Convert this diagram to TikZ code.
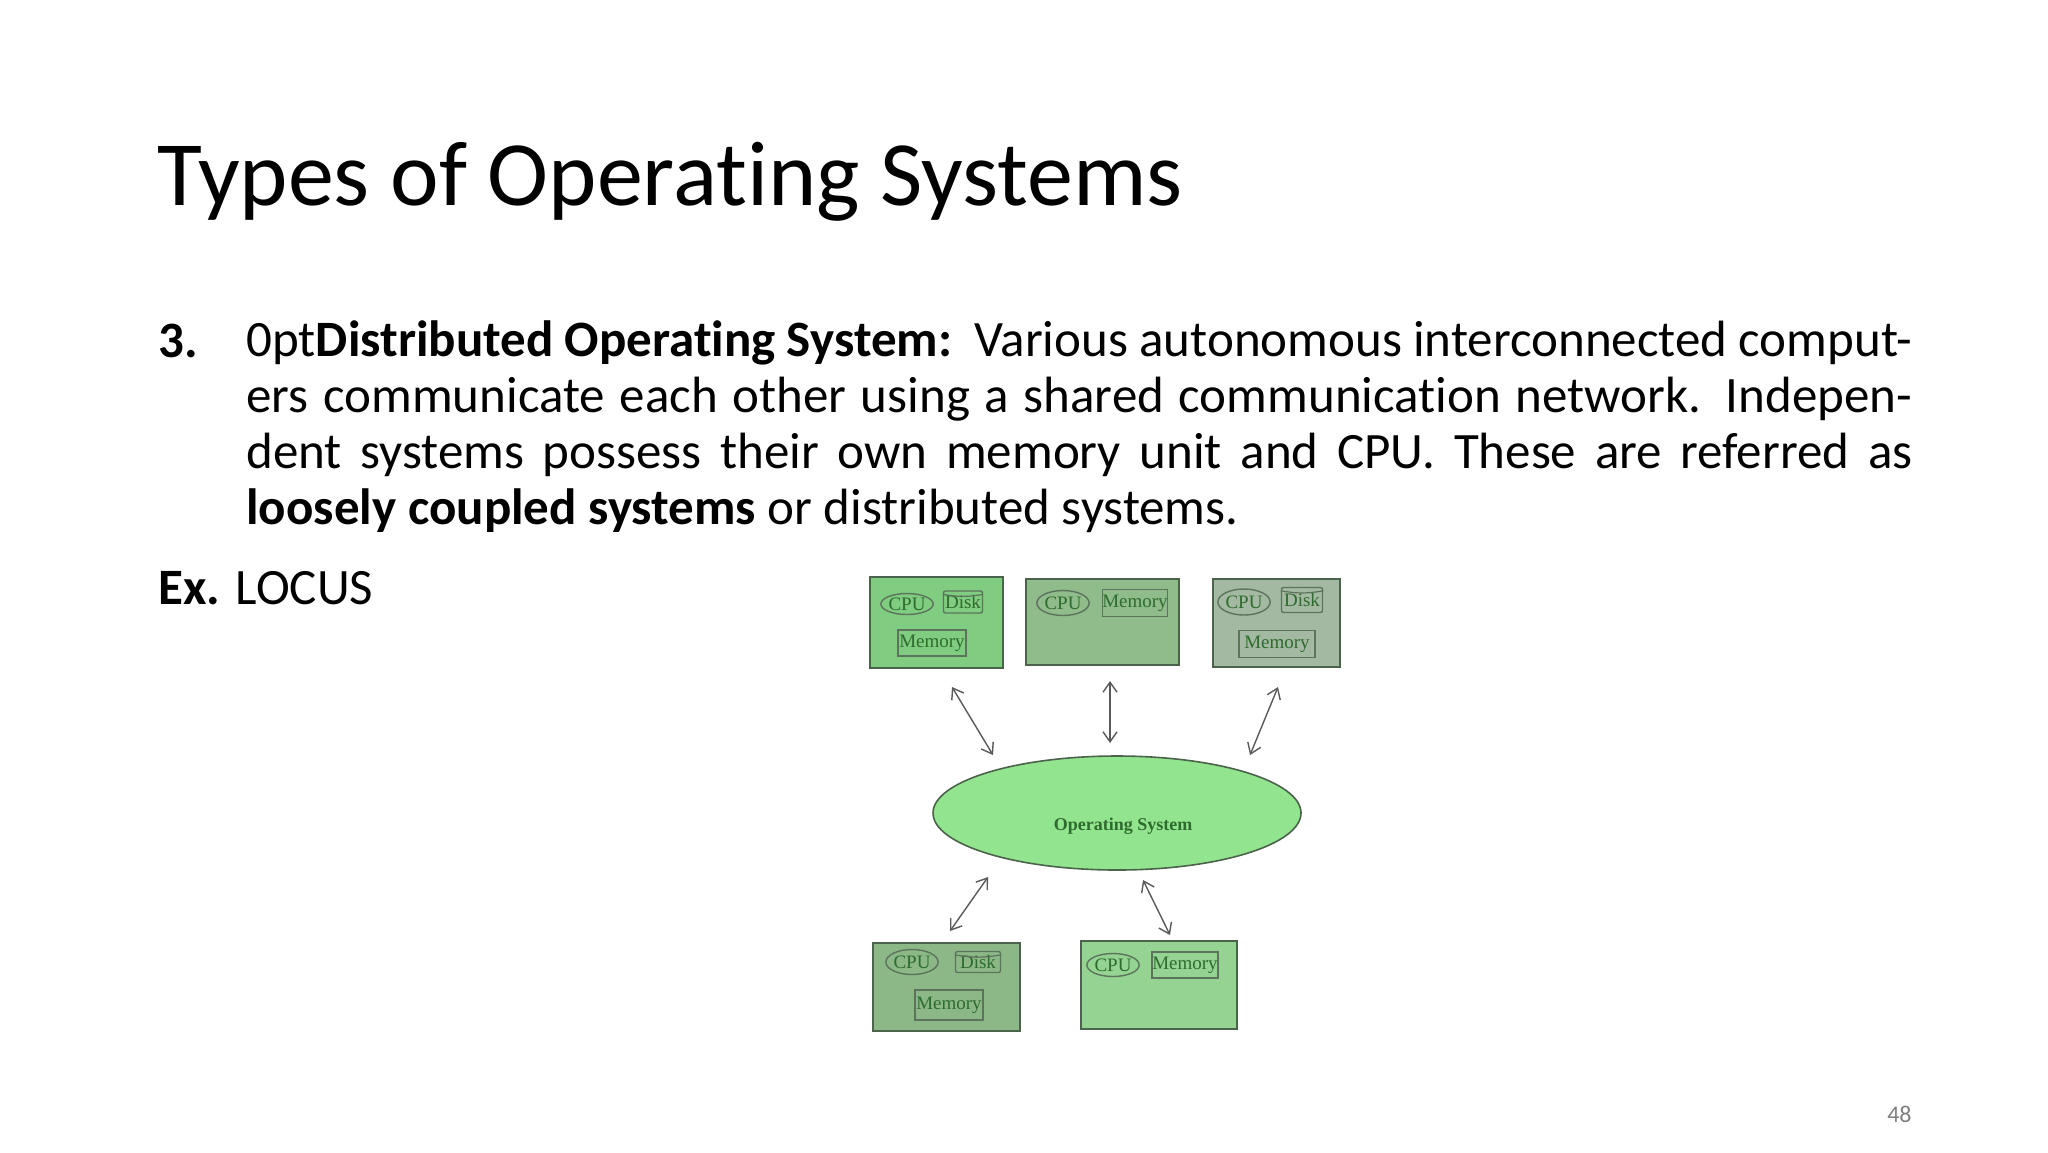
\documentclass[tikz,border=0pt]{standalone}
\usepackage{fontspec}
\setmainfont[Ligatures={NoCommon}]{Carlito}
\newfontfamily\dfont{Liberation Serif}
\usetikzlibrary{arrows.meta,shapes.geometric}
\definecolor{txtg}{HTML}{2E6B2E}
\definecolor{edg}{HTML}{4A634A}
\definecolor{bA}{HTML}{80CC80}
\definecolor{bB}{HTML}{8FBC8A}
\definecolor{bC}{HTML}{A4B9A1}
\definecolor{bD}{HTML}{8CB887}
\definecolor{bE}{HTML}{94D391}
\definecolor{osg}{HTML}{92E58E}
\tikzset{
 comp/.style={draw=edg,line width=1pt,inner sep=0},
 part/.style={draw=edg!90,line width=0.7pt,inner sep=0,font=\dfont\fontsize{9.5}{10}\selectfont,text=txtg},
 cpu/.style={part,ellipse},
 link/.style={draw=black!65,line width=0.7pt,{Straight Barb[length=5pt,width=7pt]}-{Straight Barb[length=5pt,width=7pt]}}
}
\begin{document}
\begin{tikzpicture}[x=0.5pt,y=-0.5pt]
\useasboundingbox (0,0) rectangle (2048,1152);
\node[anchor=base west,inner sep=0,font=\fontsize{46}{54}\selectfont] (title) at (157,205) {Types of Operating Systems};
\node[anchor=base west,inner sep=0,font=\fontsize{25.5}{28}\selectfont\bfseries] (num) at (158,357) {3.};
\node[anchor=north west,inner sep=0,text width=833pt,align=justify,font=\fontsize{25.5}{28}\selectfont\hyphenpenalty=10000\exhyphenpenalty=10000] (para) at (246,320)
{\textbf{Distributed Operating System:}\ \ Various autonomous interconnected computers communicate each other using a shared communication network. Independent systems possess their own memory unit and CPU. These are referred as \textbf{loosely coupled systems} or distributed systems.};
\node[anchor=base west,inner sep=0,font=\fontsize{25.5}{28}\selectfont] (ex) at (158,604) {\textbf{Ex.} LOCUS};
\node[anchor=base east,inner sep=0,font=\fontsize{12}{14}\selectfont,text=black!50] (pg) at (1912,1122) {48};
% boxes
\draw[comp,fill=bA] (870,577) rectangle (1003,668);
\draw[comp,fill=bB] (1026,579) rectangle (1179,665);
\draw[comp,fill=bC] (1213,579) rectangle (1340,667);
\draw[comp,fill=bD] (873,943) rectangle (1020,1031);
\draw[comp,fill=bE] (1081,941) rectangle (1237,1029);
% box1
\node[cpu,minimum width=24.5pt,minimum height=10.5pt] (c1) at (907,604) {CPU};
\node[part,rounded corners=1pt,minimum width=19.5pt,minimum height=11pt] (d1) at (963,602) {Disk};
\node[part,minimum width=34pt,minimum height=13pt] (m1) at (932,643) {Memory};
% box2
\node[cpu,minimum width=26pt,minimum height=12.5pt] (c2) at (1063,603) {CPU};
\node[part,minimum width=30.5pt,minimum height=13.5pt] (m2) at (1135,603) {Memory};
% box3
\node[cpu,minimum width=24.5pt,minimum height=13pt] (c3) at (1244,602) {CPU};
\node[part,rounded corners=1pt,minimum width=20.5pt,minimum height=12.5pt] (d3) at (1302,600) {Disk};
\node[part,minimum width=38pt,minimum height=13.5pt] (m3) at (1277,644) {Memory};
% box4
\node[cpu,minimum width=25.5pt,minimum height=12.5pt] (c4) at (912,962) {CPU};
\node[part,rounded corners=1pt,minimum width=22.5pt,minimum height=10.5pt] (d4) at (978,962) {Disk};
\node[part,minimum width=34pt,minimum height=15pt] (m4) at (949,1005) {Memory};
% box5
\node[cpu,minimum width=26pt,minimum height=11.5pt] (c5) at (1113,965) {CPU};
\node[part,minimum width=33pt,minimum height=13pt] (m5) at (1185,965) {Memory};
% disk top lines
\foreach \d in {d1,d3,d4}{\draw[edg!90,line width=0.6pt] ([yshift=-2pt]\d.north west) to[bend right=10] ([yshift=-2pt]\d.north east);}
% OS
\node[draw=edg,line width=0.8pt,fill=osg,ellipse,minimum width=184pt,minimum height=57pt,inner sep=0] (os) at (1117,813) {};
\node[inner sep=0,font=\dfont\bfseries\fontsize{9}{10}\selectfont,text=txtg] (oslbl) at (1123,826) {Operating System};
% arrows
\coordinate (a1s) at (952,687); \coordinate (a1e) at (993,755);
\coordinate (a2s) at (1110,681); \coordinate (a2e) at (1110,743);
\coordinate (a3s) at (1278,687); \coordinate (a3e) at (1250,755);
\coordinate (a4s) at (988,877); \coordinate (a4e) at (950,931);
\coordinate (a5s) at (1143,880); \coordinate (a5e) at (1170,935);
\draw[link] (a1s) -- (a1e);
\draw[link] (a2s) -- (a2e);
\draw[link] (a3s) -- (a3e);
\draw[link] (a4s) -- (a4e);
\draw[link] (a5s) -- (a5e);
\end{tikzpicture}
\end{document}
